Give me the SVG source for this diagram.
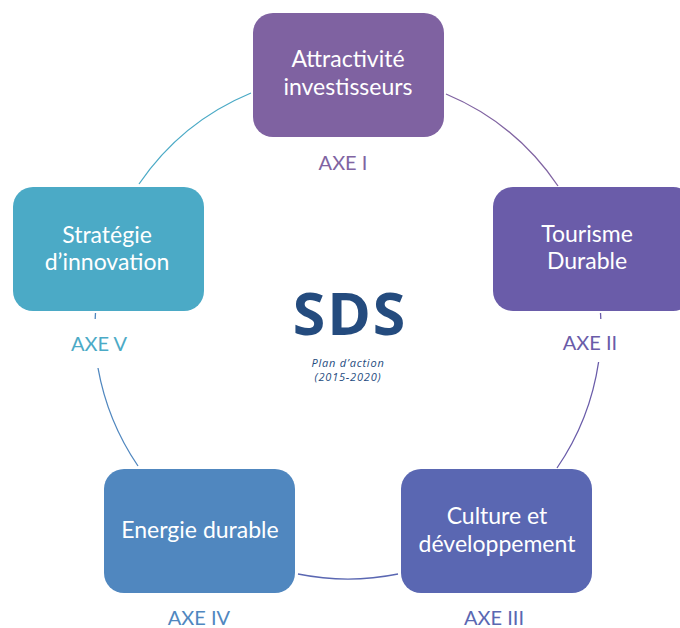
<svg xmlns="http://www.w3.org/2000/svg" width="680" height="628" viewBox="0 0 680 628">
<style>
.box{stroke:none}
.bt{font-family:Lato,"Open Sans",sans-serif;font-size:23px;fill:#fff;text-anchor:middle}
.ax{font-family:Lato,"Open Sans",sans-serif;font-size:20px;text-anchor:middle}
.arc{fill:none;stroke-width:1.3}
</style>
<rect width="680" height="628" fill="#fff"/>
<g id="connectors">
<path class="arc" stroke="#8064A2" d="M446,94 A253,253 0 0 1 558,186"/>
<path class="arc" stroke="#6A5CA9" d="M600.5,313 A253,253 0 0 1 600.8,319"/>
<path class="arc" stroke="#6A5CA9" d="M598.6,362 A253,253 0 0 1 557,468"/>
<path class="arc" stroke="#5A67B2" d="M398,574 A253,253 0 0 1 298,574"/>
<path class="arc" stroke="#5087BF" d="M138,466 A253,253 0 0 1 98,368"/>
<path class="arc" stroke="#5087BF" d="M95.2,319 A253,253 0 0 1 95.5,313"/>
<path class="arc" stroke="#4BAAC6" d="M139,184 A253,253 0 0 1 251,93"/>
</g>
<g id="n1">
<rect class="box" x="253" y="13" width="191" height="124" rx="20" fill="#7F62A1"/>
<text class="bt" x="348" y="67">Attractivité</text>
<text class="bt" x="348" y="95">investisseurs</text>
<text class="ax" x="343" y="170" fill="#8064A2">AXE I</text>
</g>
<g id="n2">
<rect class="box" x="493" y="187" width="200" height="124" rx="20" fill="#6A5CA9"/>
<text class="bt" x="587" y="242">Tourisme</text>
<text class="bt" x="587" y="269">Durable</text>
<text class="ax" x="590" y="350" fill="#6A5CA9">AXE II</text>
</g>
<g id="n3">
<rect class="box" x="401" y="469" width="191" height="124" rx="20" fill="#5A67B2"/>
<text class="bt" x="497" y="524">Culture et</text>
<text class="bt" x="497" y="552">développement</text>
<text class="ax" x="494" y="625" fill="#5A67B2">AXE III</text>
</g>
<g id="n4">
<rect class="box" x="104" y="469" width="191" height="124" rx="20" fill="#5087BF"/>
<text class="bt" x="200" y="538">Energie durable</text>
<text class="ax" x="199" y="625" fill="#5087BF">AXE IV</text>
</g>
<g id="n5">
<rect class="box" x="13" y="187" width="191" height="124" rx="20" fill="#4BAAC6"/>
<text class="bt" x="107" y="243">Stratégie</text>
<text class="bt" x="107" y="270">d’innovation</text>
<text class="ax" x="99" y="351" fill="#4BAAC6">AXE V</text>
</g>
<g id="center">
<text x="350" y="335" font-family="'Open Sans',sans-serif" font-weight="bold" font-size="59" letter-spacing="2" fill="#244B7E" text-anchor="middle">SDS</text>
<text x="348" y="367" font-family="'Open Sans',sans-serif" font-style="italic" font-size="11" letter-spacing="0.8" fill="#244B7E" text-anchor="middle">Plan d’action</text>
<text x="348" y="381" font-family="'Open Sans',sans-serif" font-style="italic" font-size="11" letter-spacing="0.8" fill="#244B7E" text-anchor="middle">(2015-2020)</text>
</g>
</svg>
